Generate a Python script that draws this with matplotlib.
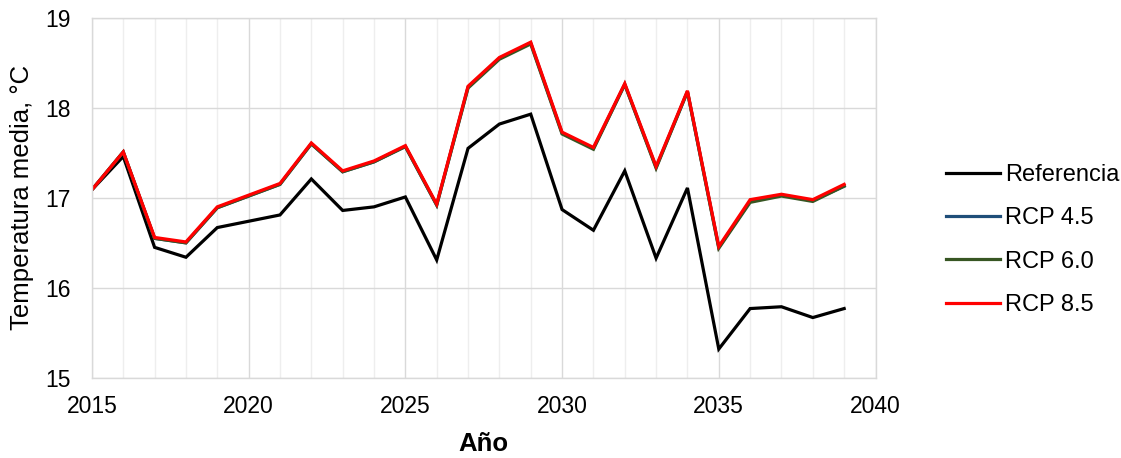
"""Temperatura media anual: referencia frente a escenarios RCP."""

import matplotlib

matplotlib.use("Agg")
import matplotlib.pyplot as plt
from matplotlib.ticker import MultipleLocator

plt.rcParams["font.family"] = ["Liberation Sans", "DejaVu Sans"]

years = list(range(2015, 2040))

referencia = [17.09, 17.46, 16.45, 16.34, 16.67, 16.74, 16.81, 17.21, 16.86, 16.90,
              17.01, 16.31, 17.55, 17.82, 17.93, 16.87, 16.64, 17.30, 16.33, 17.11,
              15.32, 15.77, 15.79, 15.67, 15.77]
rcp45 = [17.09, 17.51, 16.55, 16.50, 16.89, 17.02, 17.15, 17.60, 17.29, 17.40,
         17.57, 16.92, 18.23, 18.55, 18.72, 17.72, 17.55, 18.26, 17.34, 18.18,
         16.45, 16.96, 17.03, 16.97, 17.13]
rcp60 = [17.09, 17.51, 16.55, 16.50, 16.89, 17.02, 17.15, 17.60, 17.29, 17.40,
         17.57, 16.92, 18.22, 18.54, 18.71, 17.71, 17.54, 18.26, 17.33, 18.18,
         16.44, 16.95, 17.02, 16.96, 17.13]
rcp85 = [17.09, 17.51, 16.56, 16.51, 16.90, 17.03, 17.16, 17.61, 17.30, 17.41,
         17.58, 16.93, 18.24, 18.56, 18.73, 17.73, 17.56, 18.27, 17.35, 18.19,
         16.46, 16.98, 17.04, 16.98, 17.15]

series = [
    ("Referencia", referencia, "#000000"),
    ("RCP 4.5", rcp45, "#1f4e79"),
    ("RCP 6.0", rcp60, "#375623"),
    ("RCP 8.5", rcp85, "#ff0000"),
]

fig = plt.figure(figsize=(11.21, 4.58), dpi=100)
ax = fig.add_axes([0.082, 0.175, 0.699, 0.786])

for label, values, color in series:
    ax.plot(years, values, color=color, linewidth=2.3, label=label,
            solid_joinstyle="miter")

ax.set_xlim(2015, 2040)
ax.set_ylim(15, 19)
ax.xaxis.set_major_locator(MultipleLocator(5))
ax.xaxis.set_minor_locator(MultipleLocator(1))
ax.yaxis.set_major_locator(MultipleLocator(1))

ax.grid(which="major", color="#d9d9d9", linewidth=1.0)
ax.grid(which="minor", axis="x", color="#eeeeee", linewidth=1.0)
ax.set_axisbelow(True)
for spine in ax.spines.values():
    spine.set_color("#d9d9d9")
    spine.set_linewidth(1.0)

ax.tick_params(which="both", length=0, labelsize=16.5, colors="#000000")
ax.tick_params(axis="x", pad=12)
ax.tick_params(axis="y", pad=15)
ax.set_xlabel("Año", fontsize=18.5, fontweight="bold")
ax.set_ylabel("Temperatura media, °C", fontsize=18.5)
ax.xaxis.set_label_coords(0.5, -0.15)
ax.yaxis.set_label_coords(-0.074, 0.5)

fig.legend(loc="center left", bbox_to_anchor=(0.825, 0.476), frameon=False,
           fontsize=17, handlelength=2.3, handletextpad=0.2, labelspacing=0.9)

fig.savefig("out.png", dpi=100)
